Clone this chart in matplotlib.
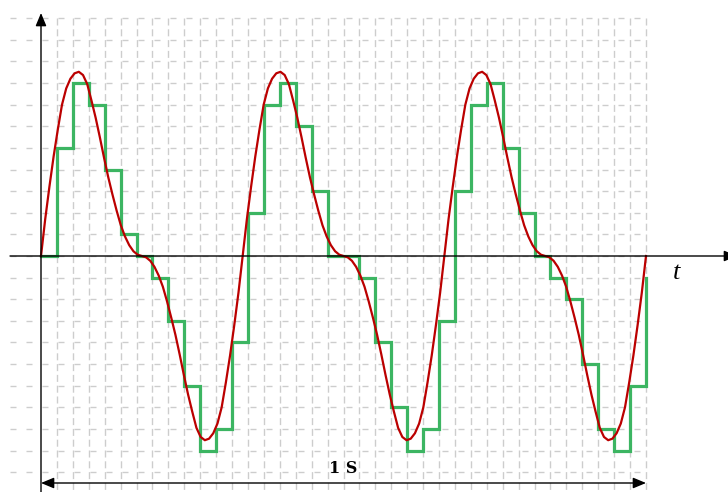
import numpy as np
import matplotlib
matplotlib.use("Agg")
import matplotlib.pyplot as plt

plt.rcParams['lines.scale_dashes'] = False

# ---- data -------------------------------------------------------------
# analog signal: one period at 48 phase steps (levels)
red_period = [0, 1.7, 3.2, 4.6, 5.85, 7.0, 7.75, 8.2, 8.45, 8.52, 8.37, 7.95,
              7.2, 6.4, 5.5, 4.55, 3.65, 2.85, 2.1, 1.42, 0.9, 0.5, 0.22, 0.06,
              0, -0.06, -0.22, -0.5, -0.9, -1.42, -2.1, -2.85, -3.65, -4.55,
              -5.5, -6.4, -7.2, -7.95, -8.37, -8.52, -8.45, -8.2, -7.75, -7.0,
              -5.85, -4.6, -3.2, -1.7]
n_periods = 3
# sampled + quantized levels (38 samples in 1 s, plus end point)
green_levels = [0, 5, 8, 7, 4, 1, 0, -1, -3, -6, -9, -8, -4,
                2, 7, 8, 6, 3, 0, 0, -1, -4, -7, -9, -8, -3,
                3, 7, 8, 5, 2, 0, -1, -2, -5, -8, -9, -6,
                -1]
x_label = "t"
span_label = "1 S"

# ---- figure -----------------------------------------------------------
W, H = 728, 492
fig = plt.figure(figsize=(W / 100, H / 100), dpi=100)
ax = fig.add_axes([0, 0, 1, 1])
ax.set_axis_off()

X0, PXS = 41.0, 605.0      # pixel of t=0, pixels per second
Y0, PXL = 256.0, 21.62     # pixel of level 0, pixels per level
def tx(px): return (px - X0) / PXS
def ly(py): return (Y0 - py) / PXL

ax.set_xlim(tx(0), tx(W))
ax.set_ylim(ly(H), ly(0))

grid_c = '#cdcdcd'
n_samp = len(green_levels) - 1
# horizontal dashed grid
for lev in range(-10, 12):
    ax.plot([tx(10), tx(646)], [lev, lev], color=grid_c, lw=1.0,
            linestyle=(0, (6 * 0.72, 10 * 0.72)), solid_capstyle='butt',
            dash_capstyle='butt', zorder=1)
# vertical dashed grid
for k in range(1, n_samp + 1):
    t = k / n_samp
    ax.plot([t, t], [ly(18), ly(H + 2)], color=grid_c, lw=1.0,
            linestyle=(0, (7 * 0.72, 3.8 * 0.72)), dash_capstyle='butt', zorder=1)

# signals
red = np.array(red_period * n_periods + [0.0])
t_red = np.linspace(0, 1, len(red))
t_g = np.arange(len(green_levels)) / n_samp
ax.step(t_g, green_levels, where='post', color='#3cb562', lw=2.3, zorder=3,
        solid_joinstyle='miter')
ax.plot(t_red, red, color='#bb0000', lw=1.6, zorder=4)

# axes with arrows
head = dict(arrowstyle='-|>,head_length=0.6,head_width=0.25', color='black',
            lw=1.0, mutation_scale=13, shrinkA=0, shrinkB=0)
ax.annotate('', xy=(tx(737), 0), xytext=(tx(10), 0), arrowprops=head,
            zorder=5, annotation_clip=False)
ax.annotate('', xy=(0, ly(13)), xytext=(0, ly(H + 5)), arrowprops=head,
            zorder=5, annotation_clip=False)
dbl = dict(head, arrowstyle='<|-|>,head_length=0.6,head_width=0.25')
ax.annotate('', xy=(1, ly(483)), xytext=(0, ly(483)), arrowprops=dbl,
            zorder=5, annotation_clip=False)

ax.text(tx(677), ly(273), x_label, fontsize=19, style='italic',
        family='Liberation Serif', ha='center', va='center', zorder=6)
ax.text(0.5, ly(473), span_label, fontsize=11.5, family='DejaVu Serif',
        fontweight='bold', ha='center', va='baseline', zorder=6)

fig.savefig('out.png', dpi=100)
